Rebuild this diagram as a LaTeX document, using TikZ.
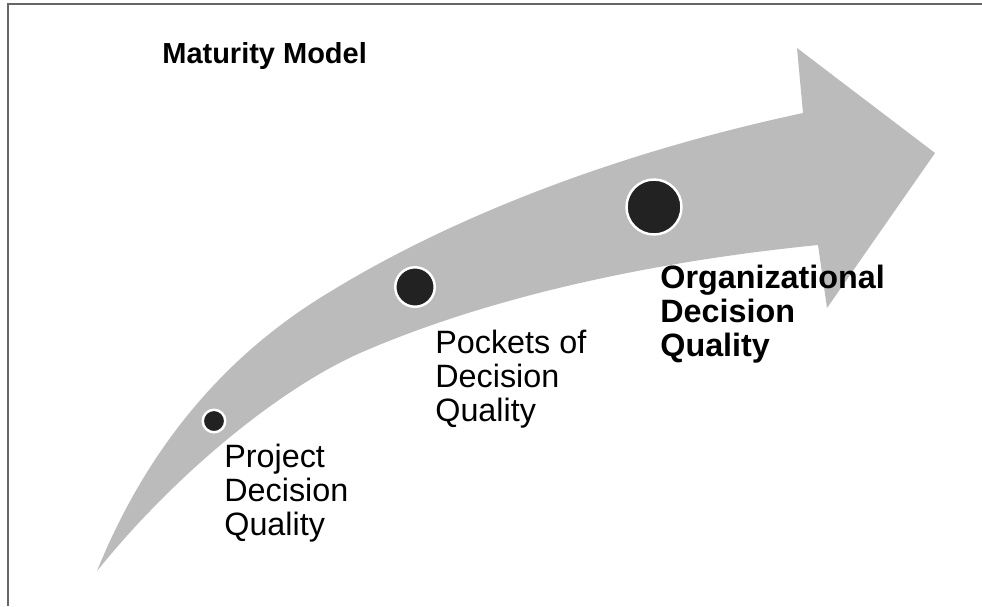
\documentclass[tikz,border=0pt]{standalone}
\usepackage{fontspec}
\setmainfont{Liberation Sans}
\usetikzlibrary{positioning}
\newcommand{\stage}[3]{\node (#1) [stage, minimum size=#3] at (#2) {};}
\tikzstyle{stage} = [circle, fill=dotblack, draw=white, line width=1.4pt, inner sep=0pt]
\tikzstyle{caption} = [anchor=base west, align=left, inner sep=0pt, font=\fontsize{18.4}{19.3}\selectfont]
\tikzstyle{heading} = [anchor=base west, inner sep=0pt, font=\fontsize{16.5}{19}\selectfont\bfseries]
\tikzstyle{shaft} = [fill=arrowgray]
\definecolor{arrowgray}{RGB}{187,187,187}
\definecolor{dotblack}{RGB}{34,34,34}
\definecolor{framegray}{RGB}{102,102,102}

\begin{document}
\begin{tikzpicture}[x=0.02cm, y=-0.02cm]
	\useasboundingbox (0,0) rectangle (982,606);
	\draw[framegray, line width=0.85pt] (8,606) -- (8,4) -- (982,4);

	% curved arrow
	\fill[shaft] (97,571) .. controls (148,445) and (228,352) .. (333,290)
		.. controls (405,246) and (560,165) .. (803,113)
		-- (797,48) -- (935,153) -- (827,308) -- (818,245)
		.. controls (647,262) and (489,298) .. (367,350)
		.. controls (283,385) and (175,474) .. (97,571) -- cycle;

	\stage{project}{214,421}{0.45cm}
	\stage{pockets}{415,287}{0.79cm}
	\stage{org}{654,207}{1.1cm}

	% last line of each caption sits on the given baseline
	\node (model) [heading] at (162,63) {Maturity Model};
	\node (projectlabel) [caption] at (224,535) {Project\\Decision\\Quality};
	\node (pocketslabel) [caption] at (435,421) {Pockets of\\Decision\\Quality};
	\node (orglabel) [caption, font=\fontsize{18.4}{19.3}\selectfont\bfseries] at (660,356) {Organizational\\Decision\\Quality};
\end{tikzpicture}
\end{document}
